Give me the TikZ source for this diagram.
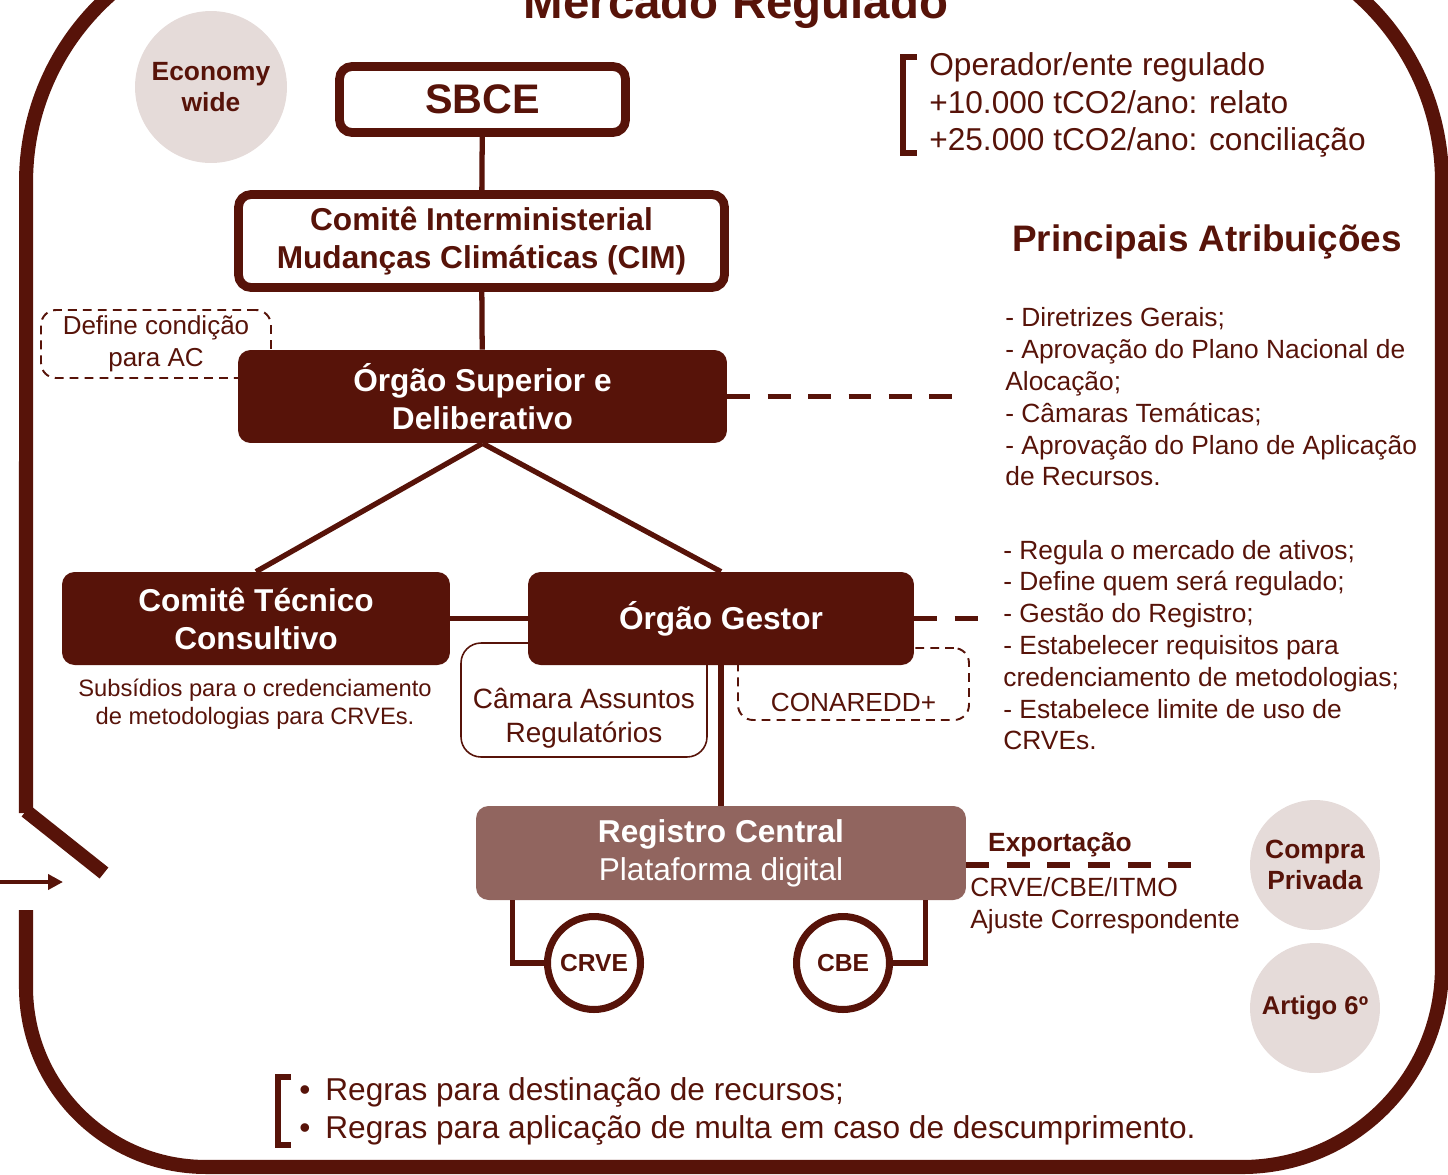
\documentclass[tikz,border=0pt]{standalone}
\usepackage{fontspec}
\setmainfont{Liberation Sans}
\usetikzlibrary{arrows.meta,calc,positioning}
\definecolor{MrRed}{RGB}{87,19,9}
\definecolor{MrRose}{RGB}{145,101,95}
\definecolor{MrMist}{RGB}{229,219,217}

\begin{document}
\begin{tikzpicture}[x=0.02cm,y=-0.02cm,>=Stealth]
  \tikzset{
    whitebox/.style={draw=MrRed,line width=5pt,rounded corners=2.5mm,fill=white,text=MrRed,align=center,font=\fontsize{18}{21.5}\selectfont\bfseries},
    redbox/.style={fill=MrRed,rounded corners=2.5mm,text=white,align=center,font=\fontsize{18}{21.5}\selectfont\bfseries},
    rosebox/.style={fill=MrRose,rounded corners=2.5mm,text=white,align=center,font=\fontsize{18}{21.5}\selectfont},
    dashbox/.style={draw=MrRed,line width=1.1pt,dash pattern=on 5pt off 3.5pt,rounded corners=3mm,fill=white,text=MrRed,align=center,inner sep=1pt,font=\fontsize{14.8}{18.1}\selectfont},
    thinbox/.style={draw=MrRed,line width=0.9pt,rounded corners=4mm,fill=white,text=MrRed,align=center,inner sep=1pt,font=\fontsize{15.9}{19.3}\selectfont},
    disc/.style={circle,fill=MrMist,text=MrRed,align=center,inner sep=0pt,font=\fontsize{15}{18.1}\selectfont\bfseries},
    ring/.style={circle,draw=MrRed,line width=4pt,fill=white,text=MrRed,minimum size=1.86cm,inner sep=0pt,font=\fontsize{14}{16}\selectfont\bfseries},
    txt/.style={text=MrRed,inner sep=0pt,font=\fontsize{15}{18.1}\selectfont},
    listtxt/.style={txt,align=left,anchor=west},
    link/.style={draw=MrRed,line width=3pt},
    dashlink/.style={draw=MrRed,line width=3.2pt,dash pattern=on 13pt off 10pt}
  }
  \useasboundingbox (0,0) rectangle (1448,1174);
  % outer frame with the open door
  \draw[MrRed,line width=8pt] (26,910) -- (26,987) arc[start angle=180,end angle=270,radius=3.6cm]
    -- (1242,1167) arc[start angle=270,end angle=360,radius=4cm]
    -- (1442,182) arc[start angle=0,end angle=90,radius=5cm]
    -- (276,-68) arc[start angle=90,end angle=180,radius=5cm] -- (26,813);
  \draw[MrRed,line width=8pt] (26,811) -- (104,873);
  \coordinate (doorin) at (0,882);
  \coordinate (doortip) at (63,882);
  \draw[MrRed,line width=2.2pt,-{Triangle[length=0.3cm,width=0.3cm]}] (doorin) -- (doortip);

  \node[text=MrRed,anchor=base,font=\fontsize{27}{32}\selectfont\bfseries] (title) at (736,18) {Mercado Regulado};
  \node[disc,minimum size=3.04cm] (economy) at (211,87) {Economy\\wide};

  % main chain
  \node[whitebox,minimum width=5.72cm,minimum height=1.32cm,font=\fontsize{23.5}{28}\selectfont\bfseries] (sbce) at (482.5,99.5) {SBCE};
  \node[whitebox,minimum width=9.72cm,minimum height=1.86cm] (cim) at (481.5,241) {Comitê Interministerial\\Mudanças Climáticas (CIM)};
  \node[dashbox,minimum width=4.6cm,minimum height=1.36cm] (condicao) at (156,344) {Define condição\\para AC};
  \node[redbox,minimum width=9.78cm,minimum height=1.86cm] (superior) at (482.5,396.5) {Órgão Superior e\\Deliberativo};
  \draw[link] (sbce) -- (cim);
  \draw[link] (cim) -- (superior);

  \node[thinbox,minimum width=4.92cm,minimum height=2.28cm,text height=1.3cm,text depth=0.23cm] (camara) at (584,700) {\begin{tabular}{@{}c@{}}Câmara Assuntos\\Regulatórios\end{tabular}};
  \node[dashbox,minimum width=4.62cm,minimum height=1.44cm,text height=1.1cm,text depth=0pt,font=\fontsize{14.9}{18}\selectfont] (conaredd) at (853.5,684) {CONAREDD+};
  \node[redbox,minimum width=7.76cm,minimum height=1.86cm] (comite) at (256,618.5) {Comitê Técnico\\Consultivo};
  \node[redbox,minimum width=7.72cm,minimum height=1.86cm] (gestor) at (721,618.5) {Órgão Gestor};
  \node[txt,align=center,font=\fontsize{13.5}{15.9}\selectfont] (subsidios) at (255,704) {Subsídios para o credenciamento\\de metodologias para CRVEs.};
  \draw[link] (superior.south) -- (comite.north);
  \draw[link] (superior.south) -- (gestor.north);
  \draw[link] (comite) -- (gestor);

  \node[rosebox,minimum width=9.8cm,minimum height=1.88cm] (registro) at (721,853) {\textbf{Registro Central}\\Plataforma digital};
  \draw[link,line width=3.4pt] (gestor) -- (registro);
  \node[ring] (crve) at (594,963) {CRVE};
  \node[ring] (cbe) at (843,963) {CBE};
  \draw[link] ([xshift=0.74cm]registro.south west) |- (crve.west);
  \draw[link] (cbe.east) -| ([xshift=-0.82cm]registro.south east);

  % right column
  \node[txt,align=left,anchor=west,font=\fontsize{18}{21.5}\selectfont] (regulado) at (929,105) {Operador/ente regulado\\+10.000 tCO2/ano: relato\\+25.000 tCO2/ano: conciliação};
  \draw[MrRed,line width=3pt] (917,57) -| (903,153) -- (917,153);
  \node[text=MrRed,font=\fontsize{21}{25}\selectfont\bfseries] (principais) at (1207,242) {Principais Atribuições};
  \node[listtxt] (superiorlist) at (1005,397) {- Diretrizes Gerais;\\- Aprovação do Plano Nacional de\\Alocação;\\- Câmaras Temáticas;\\- Aprovação do Plano de Aplicação\\de Recursos.};
  \node[listtxt] (gestorlist) at (1003,645) {- Regula o mercado de ativos;\\- Define quem será regulado;\\- Gestão do Registro;\\- Estabelecer requisitos para\\credenciamento de metodologias;\\- Estabelece limite de uso de\\CRVEs.};
  \draw[dashlink,shorten >=0.9cm] (superior.east) -- (superior.east -| superiorlist.west);
  \draw[dashlink,shorten >=0.36cm] (gestor.east) -- (gestor.east -| gestorlist.west);

  \node[disc,minimum size=2.6cm] (compra) at (1315,865) {Compra\\Privada};
  \node[disc,minimum size=2.6cm,font=\fontsize{14.6}{18}\selectfont\bfseries] (artigo) at (1315,1008) {Artigo 6º};
  \node[txt,font=\fontsize{15}{18}\selectfont\bfseries] (export) at (1060,845) {Exportação};
  \node[listtxt] (itmo) at (970,906) {CRVE/CBE/ITMO\\Ajuste Correspondente};
  \draw[dashlink,shorten >=1.08cm] (registro.east |- compra.west) -- (compra.west);

  % bottom rules
  \node[listtxt,font=\fontsize{18}{21.5}\selectfont] (regras) at (299,1111) {•\hspace{0.3cm}Regras para destinação de recursos;\\•\hspace{0.3cm}Regras para aplicação de multa em caso de descumprimento.};
  \draw[MrRed,line width=3pt] (291,1077) -| (278,1145) -- (291,1145);
\end{tikzpicture}
\end{document}
